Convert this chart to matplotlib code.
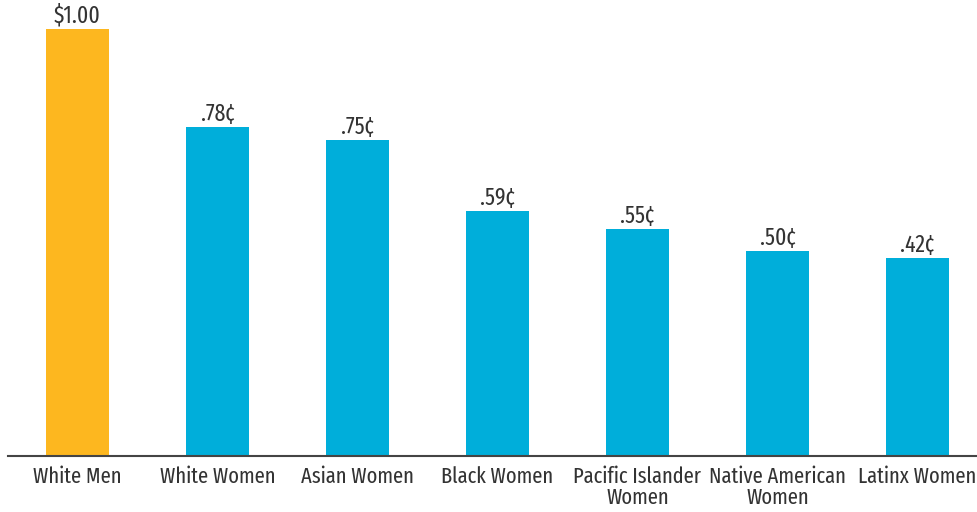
import matplotlib
matplotlib.use('Agg')
import matplotlib.pyplot as plt
import numpy as np

categories = ['White Men', 'White Women', 'Asian Women', 'Black Women',
              'Pacific Islander\nWomen', 'Native American\nWomen', 'Latinx Women']
heights = [1.00, 0.77, 0.74, 0.574, 0.532, 0.48, 0.464]
value_labels = ['$1.00', '.78¢', '.75¢', '.59¢', '.55¢', '.50¢', '.42¢']
colors = ['#FDB71F'] + ['#00AEDA'] * 6

plt.rcParams['font.family'] = ['Fira Sans Extra Condensed', 'DejaVu Sans']
text_color = '#333333'

fig = plt.figure(figsize=(9.78, 5.12), dpi=100)
ax = fig.add_axes([8 / 978, 56 / 512, 970 / 978, 456 / 512])

x = np.arange(len(categories))
ax.bar(x, heights, width=0.45, color=colors)

for xi, h, lab in zip(x, heights, value_labels):
    ax.annotate(lab, (xi, h), xytext=(0, 1), textcoords='offset points',
                ha='center', va='bottom', fontsize=17, color=text_color)

ax.set_xlim(-0.496, 6.432)
ax.set_ylim(0, 456 / 427)
ax.set_xticks(x)
ax.set_xticklabels(categories, fontsize=16, color=text_color, linespacing=1.02)
ax.tick_params(axis='x', length=0, pad=7)
ax.set_yticks([])
for side in ['top', 'right', 'left']:
    ax.spines[side].set_visible(False)
ax.spines['bottom'].set_color('#444444')
ax.spines['bottom'].set_linewidth(1.5)

fig.savefig('out.png', dpi=100)
